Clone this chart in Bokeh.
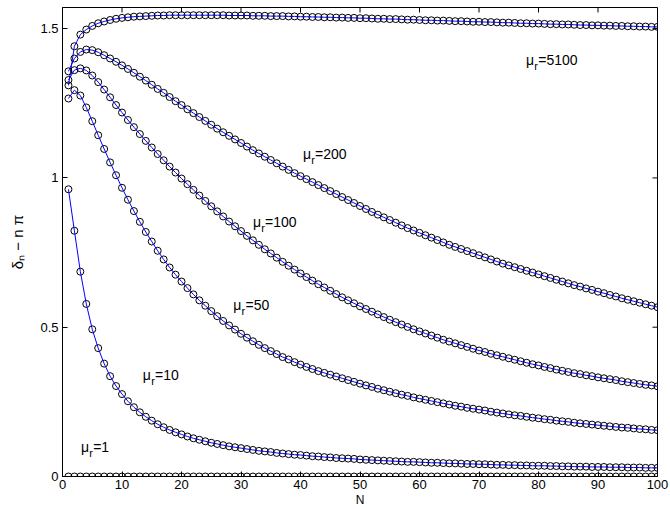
from bokeh.plotting import figure
from bokeh.models import Range1d, FixedTicker, Label, NumeralTickFormatter
from bokeh.embed import file_html
from bokeh.resources import INLINE

N = list(range(1, 101))

mu_5100 = [1.310, 1.441, 1.480, 1.497, 1.509, 1.518, 1.524, 1.529, 1.533, 1.536,
           1.538, 1.540, 1.541, 1.542, 1.543, 1.544, 1.544, 1.545, 1.545, 1.545,
           1.545, 1.545, 1.545, 1.545, 1.545, 1.545, 1.545, 1.544, 1.544, 1.544,
           1.544, 1.543, 1.543, 1.543, 1.542, 1.542, 1.542, 1.541, 1.541, 1.540,
           1.540, 1.539, 1.539, 1.538, 1.538, 1.537, 1.537, 1.536, 1.536, 1.535,
           1.535, 1.534, 1.533, 1.533, 1.532, 1.532, 1.531, 1.530, 1.530, 1.529,
           1.528, 1.528, 1.527, 1.527, 1.526, 1.525, 1.525, 1.524, 1.523, 1.523,
           1.522, 1.522, 1.521, 1.520, 1.520, 1.519, 1.518, 1.518, 1.517, 1.517,
           1.516, 1.515, 1.515, 1.514, 1.514, 1.513, 1.512, 1.512, 1.511, 1.511,
           1.510, 1.510, 1.509, 1.509, 1.508, 1.508, 1.507, 1.507, 1.506, 1.506]

mu_200 = [1.357, 1.400, 1.422, 1.430, 1.428, 1.421, 1.411, 1.400, 1.389, 1.377,
          1.365, 1.352, 1.339, 1.326, 1.312, 1.298, 1.285, 1.271, 1.257, 1.244,
          1.230, 1.217, 1.204, 1.191, 1.178, 1.165, 1.153, 1.141, 1.129, 1.117,
          1.105, 1.093, 1.082, 1.071, 1.060, 1.049, 1.038, 1.027, 1.016, 1.006,
          0.996, 0.986, 0.976, 0.966, 0.956, 0.946, 0.936, 0.926, 0.916, 0.906,
          0.896, 0.886, 0.877, 0.868, 0.859, 0.850, 0.841, 0.832, 0.824, 0.816,
          0.808, 0.800, 0.792, 0.784, 0.776, 0.769, 0.762, 0.755, 0.748, 0.741,
          0.734, 0.727, 0.720, 0.713, 0.707, 0.701, 0.695, 0.689, 0.683, 0.677,
          0.671, 0.665, 0.659, 0.653, 0.647, 0.641, 0.636, 0.630, 0.625, 0.619,
          0.614, 0.608, 0.603, 0.597, 0.592, 0.587, 0.582, 0.577, 0.572, 0.567]

mu_100 = [1.328, 1.361, 1.367, 1.360, 1.343, 1.321, 1.296, 1.270, 1.244, 1.219,
          1.194, 1.170, 1.147, 1.124, 1.102, 1.080, 1.059, 1.038, 1.018, 0.998,
          0.979, 0.960, 0.941, 0.923, 0.905, 0.888, 0.871, 0.854, 0.838, 0.822,
          0.806, 0.791, 0.776, 0.761, 0.747, 0.733, 0.719, 0.706, 0.693, 0.680,
          0.668, 0.656, 0.644, 0.633, 0.622, 0.611, 0.600, 0.590, 0.580, 0.570,
          0.561, 0.552, 0.543, 0.534, 0.525, 0.517, 0.509, 0.501, 0.493, 0.486,
          0.479, 0.472, 0.465, 0.458, 0.452, 0.446, 0.440, 0.434, 0.428, 0.422,
          0.417, 0.411, 0.406, 0.401, 0.396, 0.391, 0.386, 0.381, 0.376, 0.372,
          0.367, 0.363, 0.358, 0.354, 0.350, 0.346, 0.343, 0.339, 0.336, 0.332,
          0.329, 0.326, 0.323, 0.319, 0.316, 0.313, 0.310, 0.307, 0.305, 0.302]

mu_50 = [1.266, 1.294, 1.276, 1.236, 1.190, 1.143, 1.097, 1.052, 1.009, 0.967,
         0.927, 0.889, 0.853, 0.819, 0.787, 0.756, 0.727, 0.700, 0.676, 0.653,
         0.631, 0.610, 0.590, 0.572, 0.554, 0.537, 0.521, 0.506, 0.492, 0.478,
         0.465, 0.453, 0.441, 0.430, 0.420, 0.410, 0.400, 0.392, 0.383, 0.375,
         0.367, 0.360, 0.353, 0.347, 0.341, 0.335, 0.329, 0.323, 0.317, 0.311,
         0.305, 0.300, 0.294, 0.289, 0.284, 0.279, 0.274, 0.270, 0.265, 0.261,
         0.257, 0.253, 0.249, 0.245, 0.241, 0.237, 0.234, 0.230, 0.227, 0.224,
         0.221, 0.217, 0.214, 0.211, 0.208, 0.205, 0.203, 0.200, 0.197, 0.195,
         0.192, 0.190, 0.187, 0.185, 0.183, 0.180, 0.178, 0.176, 0.174, 0.172,
         0.170, 0.168, 0.166, 0.164, 0.163, 0.161, 0.159, 0.158, 0.156, 0.155]

mu_10 = [0.962, 0.823, 0.686, 0.578, 0.493, 0.430, 0.378, 0.336, 0.303, 0.276,
         0.252, 0.232, 0.215, 0.200, 0.187, 0.175, 0.165, 0.156, 0.148, 0.141,
         0.134, 0.128, 0.123, 0.118, 0.113, 0.109, 0.105, 0.101, 0.098, 0.095,
         0.092, 0.089, 0.086, 0.084, 0.082, 0.079, 0.077, 0.075, 0.073, 0.072,
         0.070, 0.068, 0.067, 0.065, 0.064, 0.062, 0.061, 0.060, 0.059, 0.057,
         0.056, 0.055, 0.054, 0.053, 0.052, 0.051, 0.050, 0.049, 0.049, 0.048,
         0.047, 0.046, 0.046, 0.045, 0.044, 0.044, 0.043, 0.042, 0.042, 0.041,
         0.041, 0.040, 0.039, 0.039, 0.038, 0.038, 0.037, 0.037, 0.036, 0.036,
         0.036, 0.035, 0.035, 0.034, 0.034, 0.033, 0.033, 0.033, 0.032, 0.032,
         0.032, 0.031, 0.031, 0.031, 0.030, 0.030, 0.030, 0.029, 0.029, 0.029]

mu_1 = [0.0, 0.0, 0.0, 0.0, 0.0, 0.0, 0.0, 0.0, 0.0, 0.0,
        0.0, 0.0, 0.0, 0.0, 0.0, 0.0, 0.0, 0.0, 0.0, 0.0,
        0.0, 0.0, 0.0, 0.0, 0.0, 0.0, 0.0, 0.0, 0.0, 0.0,
        0.0, 0.0, 0.0, 0.0, 0.0, 0.0, 0.0, 0.0, 0.0, 0.0,
        0.0, 0.0, 0.0, 0.0, 0.0, 0.0, 0.0, 0.0, 0.0, 0.0,
        0.0, 0.0, 0.0, 0.0, 0.0, 0.0, 0.0, 0.0, 0.0, 0.0,
        0.0, 0.0, 0.0, 0.0, 0.0, 0.0, 0.0, 0.0, 0.0, 0.0,
        0.0, 0.0, 0.0, 0.0, 0.0, 0.0, 0.0, 0.0, 0.0, 0.0,
        0.0, 0.0, 0.0, 0.0, 0.0, 0.0, 0.0, 0.0, 0.0, 0.0,
        0.0, 0.0, 0.0, 0.0, 0.0, 0.0, 0.0, 0.0, 0.0, 0.0]

series = [mu_5100, mu_200, mu_100, mu_50, mu_10, mu_1]

label_values = ["5100", "200", "100", "50", "10", "1"]
label_x = [77.9, 40.4, 32.0, 28.7, 13.5, 3.1]
label_y = [1.395, 1.080, 0.852, 0.575, 0.340, 0.099]

x_ticks = [0, 10, 20, 30, 40, 50, 60, 70, 80, 90, 100]
y_ticks = [0, 0.5, 1, 1.5]

X_MAX = 100
Y_MAX = 1.5708
FONT = "Liberation Sans"

p = figure(width=670, height=509, output_backend="svg", toolbar_location=None,
           x_range=Range1d(0, X_MAX), y_range=Range1d(0, Y_MAX),
           min_border_left=62, min_border_right=13, min_border_top=7, min_border_bottom=32,
           background_fill_color="white", border_fill_color="white")
p.xgrid.visible = False
p.ygrid.visible = False
p.outline_line_color = "black"
p.outline_line_width = 1

for ax, ticks in ((p.xaxis[0], x_ticks), (p.yaxis[0], y_ticks)):
    ax.ticker = FixedTicker(ticks=ticks)
    ax.major_tick_in = 5
    ax.major_tick_out = 0
    ax.minor_tick_in = 0
    ax.minor_tick_out = 0
    ax.axis_line_color = "black"
    ax.major_tick_line_color = "black"
    ax.major_label_text_font = FONT
    ax.major_label_text_font_size = "13px"
    ax.major_label_text_color = "black"
    ax.axis_label_text_font = FONT
    ax.axis_label_text_font_style = "normal"
    ax.axis_label_text_color = "black"

p.xaxis[0].major_label_standoff = 3
p.yaxis[0].major_label_standoff = 4
p.yaxis[0].formatter = NumeralTickFormatter(format="0.[0]")
p.xaxis[0].formatter = NumeralTickFormatter(format="0")
p.yaxis[0].axis_label = "δₙ − n π"
p.yaxis[0].axis_label_text_font_size = "15px"
p.yaxis[0].axis_label_standoff = 11
p.xaxis[0].axis_label = "N"
p.xaxis[0].axis_label_text_font_size = "12px"
p.xaxis[0].axis_label_standoff = 1

# inward ticks on the top and right sides of the box
tick_dy = 5 * Y_MAX / 470.0
tick_dx = 5 * X_MAX / 595.0
p.segment(x0=x_ticks, y0=[Y_MAX] * len(x_ticks), x1=x_ticks, y1=[Y_MAX - tick_dy] * len(x_ticks),
          line_color="black", line_width=1)
p.segment(x0=[X_MAX] * len(y_ticks), y0=y_ticks, x1=[X_MAX - tick_dx] * len(y_ticks), y1=y_ticks,
          line_color="black", line_width=1)

for ys in series:
    p.scatter(N, ys, marker="circle", size=7, fill_color=None,
              line_color="black", line_width=1)
    p.line(N, ys, line_color="#0000ff", line_width=1)

for v, lx, ly in zip(label_values, label_x, label_y):
    p.add_layout(Label(x=lx, y=ly, text="μ", text_font=FONT, text_font_size="14px",
                       text_baseline="middle", text_align="left", text_color="black"))
    p.add_layout(Label(x=lx, y=ly, text="r", text_font=FONT, text_font_size="11px",
                       x_offset=8.3, y_offset=-6, text_baseline="middle", text_align="left",
                       text_color="black"))
    p.add_layout(Label(x=lx, y=ly, text="=" + v, text_font=FONT, text_font_size="14px",
                       x_offset=12.2, text_baseline="middle", text_align="left",
                       text_color="black"))

open("out.html", "w").write(file_html(p, INLINE))
